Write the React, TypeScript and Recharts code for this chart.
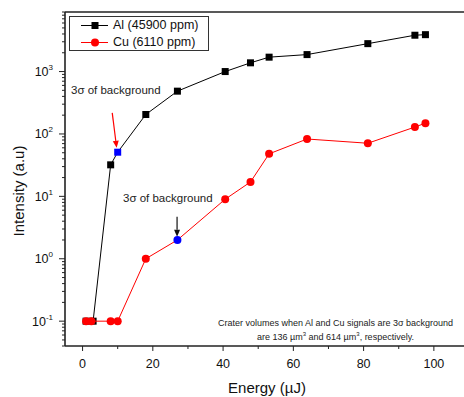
import React from "react";
import {
  ScatterChart,
  Scatter,
  XAxis,
  YAxis,
  ReferenceLine,
  Legend,
  Customized,
} from "recharts";

// Al (45900 ppm) - black squares
const alEnergy = [1, 3, 8, 10, 18, 27, 40.6, 47.8, 53.1, 63.9, 81.2, 94.6, 97.6];
const alIntensity = [0.1, 0.1, 32, 51, 205, 485, 1000, 1380, 1700, 1870, 2800, 3820, 3900];
const alMarkIndex = 3; // 3 sigma of background point (blue)

// Cu (6110 ppm) - red circles
const cuEnergy = [1, 2.5, 8, 10, 18, 27, 40.6, 47.8, 53.1, 63.9, 81.2, 94.6, 97.6];
const cuIntensity = [0.1, 0.1, 0.1, 0.1, 1, 2, 9, 17, 48, 83, 71, 129, 149];
const cuMarkIndex = 5;

const seriesNames = ["Al (45900 ppm)", "Cu (6110 ppm)"];

const xMajorTicks = [0, 20, 40, 60, 80, 100];
const xMinorTicks = [10, 30, 50, 70, 90];
const yDecades = [-1, 0, 1, 2, 3];
const yMinorDecades = [-2, -1, 0, 1, 2, 3];
const yMinorMultipliers = [2, 3, 4, 5, 6, 7, 8, 9];

const X_DOMAIN: [number, number] = [-5, 110];
const Y_DOMAIN: [number, number] = [0.04, 9000];

const FONT = "'Liberation Sans', Arial, Helvetica, sans-serif";

const alData = alEnergy.map((x, i) => ({ x, y: alIntensity[i], mark: i === alMarkIndex }));
const cuData = cuEnergy.map((x, i) => ({ x, y: cuIntensity[i], mark: i === cuMarkIndex }));

const yMajorTicks = yDecades.map((d) => Number((10 ** d).toPrecision(6)));
const yMinorTicks = yMinorDecades
  .flatMap((d) => yMinorMultipliers.map((m) => Number((m * 10 ** d).toPrecision(6))))
  .filter((v) => v >= Y_DOMAIN[0] && v <= Y_DOMAIN[1]);
const yTicks = [...yMajorTicks, ...yMinorTicks].sort((a, b) => a - b);
const xTicks = [...xMajorTicks, ...xMinorTicks].sort((a, b) => a - b);

const AlShape = (props: any) => {
  const { cx, cy, payload } = props;
  const s = 7;
  return (
    <rect x={cx - s / 2} y={cy - s / 2} width={s} height={s} fill={payload?.mark ? "#0000ff" : "#000"} />
  );
};

const CuShape = (props: any) => {
  const { cx, cy, payload } = props;
  return <circle cx={cx} cy={cy} r={4} fill={payload?.mark ? "#0000ff" : "#ff0000"} />;
};

const YTick = (props: any) => {
  const { x, y, payload } = props;
  const v = payload.value;
  const major = yMajorTicks.some((t) => Math.abs(t - v) < 1e-9);
  const exp = Math.round(Math.log10(v));
  return (
    <g>
      <line x1={x} x2={x - (major ? 6 : 3)} y1={y} y2={y} stroke="#222" strokeWidth={1} />
      {major && (
        <text x={x - 12} y={y + 4.5} textAnchor="end" fontSize={12.5} fontFamily={FONT} fill="#111">
          10
          <tspan dy={-6} fontSize={8}>
            {exp}
          </tspan>
        </text>
      )}
    </g>
  );
};

const XTick = (props: any) => {
  const { x, y, payload } = props;
  const major = xMajorTicks.includes(payload.value);
  return (
    <g>
      <line x1={x} x2={x} y1={y} y2={y + (major ? 5 : 3)} stroke="#222" strokeWidth={1} />
      {major && (
        <text x={x} y={y + 21.5} textAnchor="middle" fontSize={12.5} fontFamily={FONT} fill="#111">
          {payload.value}
        </text>
      )}
    </g>
  );
};

const arrowShape = (color: string) => (props: any) => {
  const { x1, y1, x2, y2 } = props;
  if (![x1, y1, x2, y2].every(Number.isFinite)) return <g />;
  const ang = Math.atan2(y2 - y1, x2 - x1);
  const len = 7;
  const w = 3;
  const bx = x2 - len * Math.cos(ang);
  const by = y2 - len * Math.sin(ang);
  const px = -Math.sin(ang) * w;
  const py = Math.cos(ang) * w;
  return (
    <g>
      <line x1={x1} y1={y1} x2={bx} y2={by} stroke={color} strokeWidth={1.2} />
      <polygon points={`${x2},${y2} ${bx + px},${by + py} ${bx - px},${by - py}`} fill={color} />
    </g>
  );
};

const renderLegend = () => (
  <div
    style={{
      position: "relative",
      width: 138,
      height: 33,
      border: "1px solid #333",
      background: "#fff",
      fontFamily: FONT,
      fontSize: 12.5,
      color: "#111",
    }}
  >
    {seriesNames.map((name, i) => (
      <div key={name} style={{ position: "absolute", left: 0, top: i * 17, height: 17, width: 138 }}>
        <svg width={40} height={17} style={{ position: "absolute", left: 0, top: 0 }}>
          <line x1={11} x2={38} y1={8.5} y2={8.5} stroke={i === 0 ? "#000" : "#ff0000"} strokeWidth={1} />
          {i === 0 ? (
            <rect x={21.5} y={5} width={7} height={7} fill="#000" />
          ) : (
            <circle cx={25} cy={8.5} r={4} fill="#ff0000" />
          )}
        </svg>
        <span style={{ position: "absolute", left: 43, top: 1, lineHeight: "15px", whiteSpace: "nowrap" }}>
          {name}
        </span>
      </div>
    ))}
  </div>
);

const Annotations = () => (
  <g fontFamily={FONT}>
    <text x={71} y={94} fontSize={11.5} fill="#222">
      3σ of background
    </text>
    <text x={123} y={202} fontSize={11.5} fill="#222">
      3σ of background
    </text>
    <text x={335.5} y={326} fontSize={9} textAnchor="middle" fill="#222">
      Crater volumes when Al and Cu signals are 3σ background
    </text>
    <text x={335.5} y={340} fontSize={9} textAnchor="middle" fill="#222">
      are 136 µm<tspan dy={-4} fontSize={6}>3</tspan>
      <tspan dy={4}> and 614 µm</tspan>
      <tspan dy={-4} fontSize={6}>3</tspan>
      <tspan dy={4}>, respectively.</tspan>
    </text>
    <text
      x={18}
      y={191}
      fontSize={15}
      fill="#111"
      textAnchor="middle"
      dominantBaseline="central"
      transform="rotate(-90 18 191)"
    >
      Intensity (a.u)
    </text>
    <text x={267} y={393} fontSize={15} fill="#111" textAnchor="middle">
      Energy (µJ)
    </text>
  </g>
);

export default function App() {
  return (
    <div
      style={{
        position: "fixed",
        left: 0,
        top: 0,
        width: 464,
        height: 397,
        overflow: "hidden",
        background: "#fff",
      }}
    >
      <ScatterChart
        width={464}
        height={397}
        margin={{ top: 12, right: -5, left: 0, bottom: 0 }}
        style={{ overflow: "hidden" }}
      >
        <XAxis
          dataKey="x"
          type="number"
          domain={X_DOMAIN}
          ticks={xTicks}
          interval={0}
          tickSize={0}
          tickMargin={0}
          tickLine={false}
          tick={XTick}
          height={51}
          allowDataOverflow
          axisLine={{ stroke: "#222", strokeWidth: 1.6 }}
        />
        <YAxis
          dataKey="y"
          type="number"
          scale="log"
          domain={Y_DOMAIN}
          ticks={yTicks}
          interval={0}
          tickSize={0}
          tickMargin={0}
          tickLine={false}
          tick={YTick}
          width={65}
          allowDataOverflow
          axisLine={{ stroke: "#222", strokeWidth: 1.6 }}
        />
        <ReferenceLine y={Y_DOMAIN[1]} stroke="#222" strokeWidth={1.6} />
        <ReferenceLine
          segment={[
            { x: 8.45, y: 218 },
            { x: 9.7, y: 60 },
          ]}
          shape={arrowShape("#ff0000")}
        />
        <ReferenceLine
          segment={[
            { x: 26.9, y: 4.7 },
            { x: 26.9, y: 2.25 },
          ]}
          shape={arrowShape("#111")}
        />
        <Scatter
          name={seriesNames[0]}
          data={alData}
          fill="#000"
          line={{ stroke: "#000", strokeWidth: 1 }}
          lineType="joint"
          shape={AlShape}
          isAnimationActive={false}
        />
        <Scatter
          name={seriesNames[1]}
          data={cuData}
          fill="#ff0000"
          line={{ stroke: "#ff0000", strokeWidth: 1 }}
          lineType="joint"
          shape={CuShape}
          isAnimationActive={false}
        />
        <Legend
          layout="horizontal"
          verticalAlign="middle"
          content={renderLegend}
          wrapperStyle={{ left: 69, top: 16, width: 140, height: 35 }}
        />
        <Customized component={Annotations} />
      </ScatterChart>
    </div>
  );
}
